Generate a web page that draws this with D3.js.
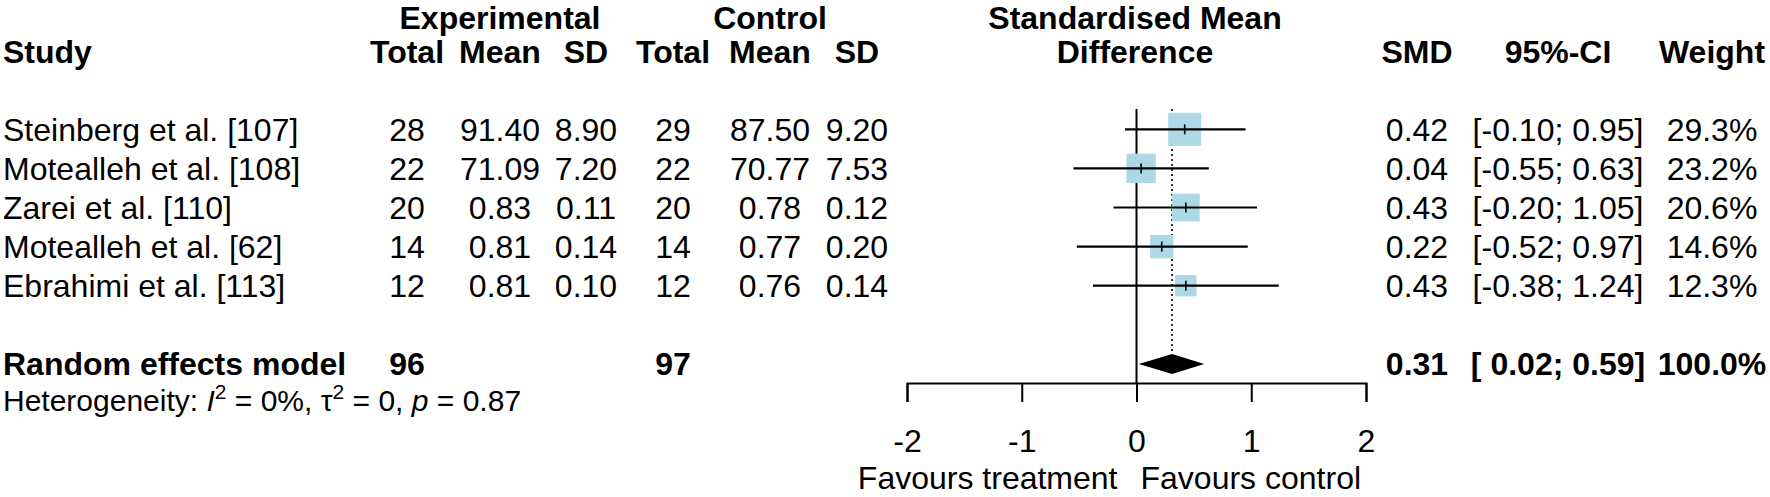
<!DOCTYPE html>
<html>
<head>
<meta charset="utf-8">
<script src="https://cdn.jsdelivr.net/npm/d3@7"></script>
<style>
  html, body { margin: 0; padding: 0; background: #fff; }
  svg { display: block; }
  text { font-family: "Liberation Sans", Arial, Helvetica, sans-serif; fill: #000; }
</style>
</head>
<body>
<svg id="chart" width="1770" height="497"></svg>
<script>
// ---------------- data ----------------
const studies   = ["Steinberg et al. [107]", "Motealleh et al. [108]", "Zarei et al. [110]", "Motealleh et al. [62]", "Ebrahimi et al. [113]"];
const expTotal  = [28, 22, 20, 14, 12];
const expMean   = [91.40, 71.09, 0.83, 0.81, 0.81];
const expSD     = [8.90, 7.20, 0.11, 0.14, 0.10];
const ctrlTotal = [29, 22, 20, 14, 12];
const ctrlMean  = [87.50, 70.77, 0.78, 0.77, 0.76];
const ctrlSD    = [9.20, 7.53, 0.12, 0.20, 0.14];
const smd       = [0.42, 0.04, 0.43, 0.22, 0.43];
const ciLower   = [-0.10, -0.55, -0.20, -0.52, -0.38];
const ciUpper   = [0.95, 0.63, 1.05, 0.97, 1.24];
const weights   = [29.3, 23.2, 20.6, 14.6, 12.3];

const summaryLabel = "Random effects model";
const summaryExpTotal = 96;
const summaryCtrlTotal = 97;
const summarySMD = 0.31;
const summaryLower = 0.02;
const summaryUpper = 0.59;
const summaryWeight = 100.0;

const tickValues = [-2, -1, 0, 1, 2];
const labelLeft = "Favours treatment";
const labelRight = "Favours control";

// ---------------- layout ----------------
const W = 1770, H = 497;
const FS = 32;
const svg = d3.select("#chart");

const x = d3.scaleLinear().domain([-2, 2]).range([907, 1366]);
// row index -> vertical centre
const yRow = d3.scaleLinear().domain([0, 1]).range([129.3, 168.4]);
const boxSide = d3.scaleSqrt().domain([0, d3.max(weights)]).range([0, 33]);

const f2 = d => d.toFixed(2);
const fci = d => (d < 0 ? "" : " ") + d.toFixed(2);
const fw = d => d.toFixed(1) + "%";

function txt(xp, yc, s, anchor, bold) {
  return svg.append("text")
    .attr("x", xp).attr("y", yc).attr("dy", "0.36em")
    .attr("text-anchor", anchor || "start")
    .attr("font-size", FS)
    .attr("font-weight", bold ? "bold" : "normal")
    .attr("xml:space", "preserve")
    .text(s);
}

// column centres
const col = {
  study: 3, eTot: 407, eMean: 500, eSD: 586, cTot: 673, cMean: 770, cSD: 857,
  smd: 1417, ci: 1558, wt: 1712
};

// headers
const yH1 = 17.5, yH2 = yRow(-2);
txt(col.eMean, yH1, "Experimental", "middle", true);
txt(col.cMean, yH1, "Control", "middle", true);
txt(1135, yH1, "Standardised Mean", "middle", true);
txt(3, yH2, "Study", "start", true);
txt(col.eTot, yH2, "Total", "middle", true);
txt(col.eMean, yH2, "Mean", "middle", true);
txt(col.eSD, yH2, "SD", "middle", true);
txt(col.cTot, yH2, "Total", "middle", true);
txt(col.cMean, yH2, "Mean", "middle", true);
txt(col.cSD, yH2, "SD", "middle", true);
txt(1135, yH2, "Difference", "middle", true);
txt(col.smd, yH2, "SMD", "middle", true);
txt(col.ci, yH2, "95%-CI", "middle", true);
txt(col.wt, yH2, "Weight", "middle", true);

// study rows text
studies.forEach((s, i) => {
  const yc = yRow(i);
  txt(col.study, yc, s, "start");
  txt(col.eTot, yc, String(expTotal[i]), "middle");
  txt(col.eMean, yc, f2(expMean[i]), "middle");
  txt(col.eSD, yc, f2(expSD[i]), "middle");
  txt(col.cTot, yc, String(ctrlTotal[i]), "middle");
  txt(col.cMean, yc, f2(ctrlMean[i]), "middle");
  txt(col.cSD, yc, f2(ctrlSD[i]), "middle");
  txt(col.smd, yc, f2(smd[i]), "middle");
  txt(col.ci, yc, "[" + fci(ciLower[i]) + "; " + f2(ciUpper[i]) + "]", "middle");
  txt(col.wt, yc, fw(weights[i]), "middle");
});

// summary row
const ySum = yRow(6);
txt(col.study, ySum, summaryLabel, "start", true);
txt(col.eTot, ySum, String(summaryExpTotal), "middle", true);
txt(col.cTot, ySum, String(summaryCtrlTotal), "middle", true);
txt(col.smd, ySum, f2(summarySMD), "middle", true);
txt(col.ci, ySum, "[" + fci(summaryLower) + "; " + f2(summaryUpper) + "]", "middle", true);
txt(col.wt, ySum, fw(summaryWeight), "middle", true);

// heterogeneity
const HFS = 30;
const het = svg.append("text").attr("x", 3).attr("y", 400).attr("dy", "0.36em")
  .attr("font-size", HFS).attr("xml:space", "preserve");
het.append("tspan").text("Heterogeneity: ");
het.append("tspan").attr("font-style", "italic").text("I");
het.append("tspan").attr("font-size", HFS * 0.7).attr("dy", "-0.55em").text("2");
het.append("tspan").attr("dy", "0.385em").text(" = 0%, τ");
het.append("tspan").attr("font-size", HFS * 0.7).attr("dy", "-0.55em").text("2");
het.append("tspan").attr("dy", "0.385em").text(" = 0, ");
het.append("tspan").attr("font-style", "italic").text("p");
het.append("tspan").text(" = 0.87");

// ---------------- plot ----------------
const yTop = 109;
const yAxis = 383;
const g = svg.append("g");

// zero line
g.append("line").attr("x1", x(0)).attr("x2", x(0)).attr("y1", yTop).attr("y2", yAxis)
  .attr("stroke", "#000").attr("stroke-width", 2);
// summary dotted line
g.append("line").attr("x1", x(summarySMD)).attr("x2", x(summarySMD))
  .attr("y1", yTop).attr("y2", ySum - 10)
  .attr("stroke", "#000").attr("stroke-width", 1.6).attr("stroke-dasharray", "2,3");

// study rows
studies.forEach((s, i) => {
  const yc = yRow(i);
  const side = boxSide(weights[i]);
  g.append("rect")
    .attr("x", x(smd[i]) - side / 2).attr("y", yc - side / 2)
    .attr("width", side).attr("height", side)
    .attr("fill", "#ADD8E6");
  g.append("line").attr("x1", x(ciLower[i])).attr("x2", x(ciUpper[i]))
    .attr("y1", yc).attr("y2", yc).attr("stroke", "#000").attr("stroke-width", 2.2);
  g.append("line").attr("x1", x(smd[i])).attr("x2", x(smd[i]))
    .attr("y1", yc - 5).attr("y2", yc + 5).attr("stroke", "#000").attr("stroke-width", 1.6);
});

// diamond
g.append("path")
  .attr("d", d3.line()([
    [x(summaryLower), ySum], [x(summarySMD), ySum - 10],
    [x(summaryUpper), ySum], [x(summarySMD), ySum + 10]
  ]) + "Z")
  .attr("fill", "#000");

// axis
const axis = d3.axisBottom(x).tickValues(tickValues).tickSize(19).tickPadding(27)
  .tickFormat(d => String(d));
const ag = svg.append("g").attr("transform", `translate(0,${yAxis})`).call(axis);
ag.selectAll("path, line").attr("stroke", "#000").attr("stroke-width", 2);
ag.selectAll("text").attr("font-size", FS).attr("font-family", "Liberation Sans, Arial, sans-serif").attr("fill", "#000");

// favours labels
txt(x(0) - 19, 477, labelLeft, "end");
txt(x(0) + 4, 477, labelRight, "start");
</script>
</body>
</html>
